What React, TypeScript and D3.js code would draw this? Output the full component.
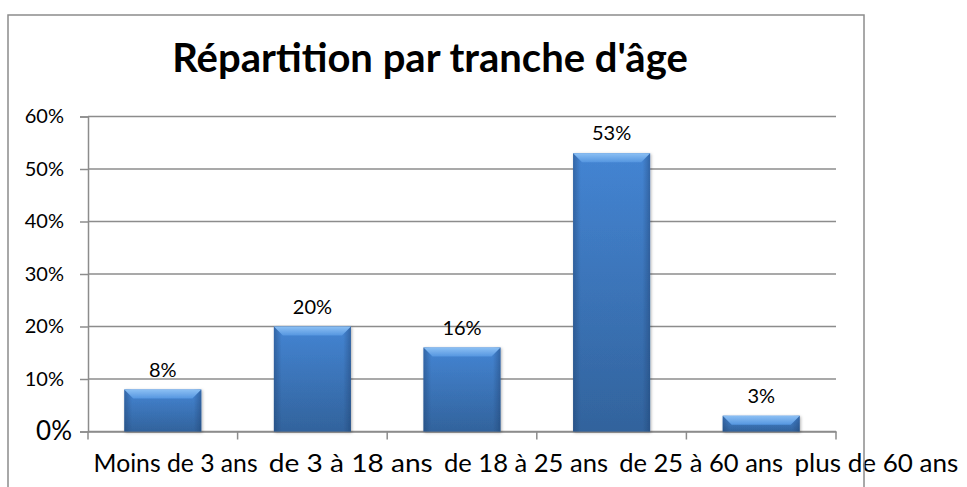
import React, { useRef, useEffect } from "react";
import * as d3 from "d3";

// Chart data
const categories = [
  "Moins de 3 ans",
  "de 3 à 18 ans",
  "de 18 à 25 ans",
  "de 25 à 60 ans",
  "plus de 60 ans",
];
const values = [0.08, 0.2, 0.16, 0.53, 0.03];
const yTicks = [0, 0.1, 0.2, 0.3, 0.4, 0.5, 0.6];
const title = "Répartition par tranche d'âge";

const App = () => {
  const svgRef = useRef<SVGSVGElement>(null);

  useEffect(() => {
    const svg = d3.select(svgRef.current);
    svg.selectAll("*").remove();

    const W = 967;
    const H = 487;
    const font = "Lato, 'Open Sans', sans-serif";
    const gray = "#8c8c8c";

    // plot area
    const x0 = 88;
    const x1 = 836;
    const yBottom = 431.5;
    const yTop = 116.5;

    const xScale = d3
      .scaleBand()
      .domain(categories)
      .range([x0, x1])
      .paddingInner(0.485)
      .paddingOuter(0.2425);

    // the category labels are wider than the slots, so they spread past the plot
    const labelScale = d3.scaleBand().domain(categories).range([88, 964]);

    const yScale = d3.scaleLinear().domain([0, 0.6]).range([yBottom, yTop]);

    // gradients for the bevelled bars
    const defs = svg.append("defs");
    const body = defs
      .append("linearGradient")
      .attr("id", "barBody")
      .attr("x1", 0)
      .attr("y1", 0)
      .attr("x2", 0)
      .attr("y2", 1);
    body.append("stop").attr("offset", "0%").attr("stop-color", "#4688d8");
    body.append("stop").attr("offset", "100%").attr("stop-color", "#33659f");

    const sides = defs
      .append("linearGradient")
      .attr("id", "barSides")
      .attr("x1", 0)
      .attr("y1", 0)
      .attr("x2", 1)
      .attr("y2", 0);
    sides.append("stop").attr("offset", "0%").attr("stop-color", "#1c3d6b").attr("stop-opacity", 0.45);
    sides.append("stop").attr("offset", "10%").attr("stop-color", "#1c3d6b").attr("stop-opacity", 0.05);
    sides.append("stop").attr("offset", "90%").attr("stop-color", "#1c3d6b").attr("stop-opacity", 0.05);
    sides.append("stop").attr("offset", "100%").attr("stop-color", "#1c3d6b").attr("stop-opacity", 0.45);

    const bevel = defs
      .append("linearGradient")
      .attr("id", "barBevel")
      .attr("x1", 0)
      .attr("y1", 0)
      .attr("x2", 0)
      .attr("y2", 1);
    bevel.append("stop").attr("offset", "0%").attr("stop-color", "#8cc0f4");
    bevel.append("stop").attr("offset", "100%").attr("stop-color", "#5596e0");

    const shadow = defs
      .append("filter")
      .attr("id", "shadow")
      .attr("x", "-20%")
      .attr("y", "-20%")
      .attr("width", "140%")
      .attr("height", "140%");
    shadow
      .append("feDropShadow")
      .attr("dx", 1)
      .attr("dy", 1)
      .attr("stdDeviation", 1.5)
      .attr("flood-color", "#000")
      .attr("flood-opacity", 0.3);

    svg.append("rect").attr("width", W).attr("height", H).attr("fill", "#fff");

    // gridlines
    svg
      .append("g")
      .selectAll("line")
      .data(yTicks)
      .enter()
      .append("line")
      .attr("x1", x0)
      .attr("x2", x1)
      .attr("y1", (d) => yScale(d))
      .attr("y2", (d) => yScale(d))
      .attr("stroke", gray)
      .attr("stroke-width", 1.5);

    // y axis
    const yAxis = svg
      .append("g")
      .attr("transform", `translate(${x0}, 0)`)
      .call(
        d3
          .axisLeft(yScale)
          .tickValues(yTicks)
          .tickFormat(d3.format(".0%"))
          .tickSize(8)
          .tickPadding(16)
      );
    yAxis.select(".domain").attr("stroke", gray).attr("stroke-width", 1.5);
    yAxis.selectAll(".tick line").attr("stroke", gray).attr("stroke-width", 1.5);
    yAxis
      .selectAll(".tick text")
      .attr("font-family", font)
      .attr("font-size", 20)
      .attr("fill", "#000");
    yAxis
      .selectAll(".tick text")
      .filter((d) => d === 0)
      .attr("font-size", 26)
      .attr("x", -16);

    // x axis (line only, labels drawn below)
    const xAxis = svg
      .append("g")
      .attr("transform", `translate(0, ${yBottom})`)
      .call(d3.axisBottom(xScale).tickSize(0).tickFormat(() => ""));
    xAxis.select(".domain").attr("stroke", gray).attr("stroke-width", 1.5);

    // category boundary ticks
    const step = xScale.step();
    svg
      .append("g")
      .selectAll("line")
      .data(d3.range(categories.length + 1))
      .enter()
      .append("line")
      .attr("x1", (i) => x0 + i * step)
      .attr("x2", (i) => x0 + i * step)
      .attr("y1", yBottom)
      .attr("y2", yBottom + 8)
      .attr("stroke", gray)
      .attr("stroke-width", 1.5);

    // category labels
    svg
      .append("g")
      .selectAll("text")
      .data(categories)
      .enter()
      .append("text")
      .attr("x", (d) => labelScale(d) + labelScale.bandwidth() / 2)
      .attr("y", 472)
      .attr("text-anchor", "middle")
      .attr("font-family", font)
      .attr("font-size", 24.5)
      .attr("textLength", 164)
      .attr("lengthAdjust", "spacingAndGlyphs")
      .attr("fill", "#000")
      .text((d) => d);

    // bars
    const bars = svg
      .append("g")
      .selectAll("g")
      .data(values)
      .enter()
      .append("g")
      .attr("filter", "url(#shadow)");

    const bw = xScale.bandwidth();
    bars
      .append("rect")
      .attr("x", (d, i) => xScale(categories[i]))
      .attr("y", (d) => yScale(d))
      .attr("width", bw)
      .attr("height", (d) => yBottom - yScale(d))
      .attr("fill", "url(#barBody)");
    bars
      .append("rect")
      .attr("x", (d, i) => xScale(categories[i]))
      .attr("y", (d) => yScale(d))
      .attr("width", bw)
      .attr("height", (d) => yBottom - yScale(d))
      .attr("fill", "url(#barSides)");
    bars
      .append("path")
      .attr("d", (d, i) => {
        const bx = xScale(categories[i]);
        const by = yScale(d);
        const b = 9;
        return `M${bx},${by}L${bx + bw},${by}L${bx + bw - b},${by + b}L${bx + b},${by + b}Z`;
      })
      .attr("fill", "url(#barBevel)");

    // value labels
    svg
      .append("g")
      .selectAll("text")
      .data(values)
      .enter()
      .append("text")
      .attr("x", (d, i) => xScale(categories[i]) + bw / 2)
      .attr("y", (d) => yScale(d) - 13)
      .attr("text-anchor", "middle")
      .attr("font-family", font)
      .attr("font-size", 20)
      .attr("fill", "#000")
      .text((d) => d3.format(".0%")(d));

    // title
    svg
      .append("text")
      .attr("x", 430)
      .attr("y", 72)
      .attr("text-anchor", "middle")
      .attr("font-family", font)
      .attr("font-weight", "bold")
      .attr("font-size", 40)
      .attr("fill", "#000")
      .text(title);

    // chart border
    svg
      .append("rect")
      .attr("x", 8)
      .attr("y", 15)
      .attr("width", 856)
      .attr("height", 500)
      .attr("fill", "none")
      .attr("stroke", gray)
      .attr("stroke-width", 1.5);
  }, []);

  return (
    <svg
      ref={svgRef}
      width={967}
      height={487}
      style={{ position: "absolute", left: 0, top: 0 }}
    ></svg>
  );
};

export default App;
